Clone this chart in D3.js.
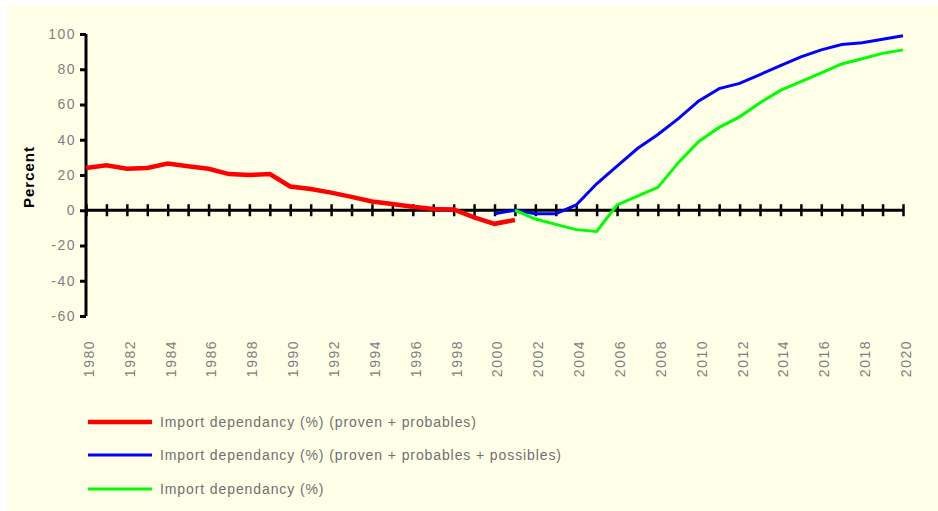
<!DOCTYPE html>
<html lang="en">
<head>
<meta charset="UTF-8">
<title>Import dependancy</title>
<style>
  body { margin: 0; background: #fff; }
  text { font-family: "Liberation Sans", Arial, sans-serif; }
</style>
</head>
<body></body>
<script src="https://cdn.jsdelivr.net/npm/d3@7"></script>
<script>
    let width = 938;
    let height = 511;

    // data
    const redYears   = [1980, 1981, 1982, 1983, 1984, 1985, 1986, 1987, 1988, 1989, 1990, 1991, 1992, 1993, 1994, 1995, 1996, 1997, 1998, 1999, 2000, 2001];
    const redValues  = [24, 25.5, 23.5, 24, 26.5, 25, 23.5, 20.5, 20, 20.5, 13.5, 12, 10, 7.6, 5, 3.5, 2, 0.7, 0.5, -4, -7.7, -5.5];

    const blueYears  = [2000, 2001, 2002, 2003, 2004, 2005, 2006, 2007, 2008, 2009, 2010, 2011, 2012, 2013, 2014, 2015, 2016, 2017, 2018, 2019, 2020];
    const blueValues = [-2, 0, -2, -2, 3, 15, 25, 35, 43, 52, 62, 69, 72, 77, 82, 87, 91, 94, 95, 97, 99];

    const greenYears  = [2001, 2002, 2003, 2004, 2005, 2006, 2007, 2008, 2009, 2010, 2011, 2012, 2013, 2014, 2015, 2016, 2017, 2018, 2019, 2020];
    const greenValues = [0, -5, -8, -11, -12, 3, 8, 13, 27, 39, 47, 53, 61, 68, 73, 78, 83, 86, 89, 91];

    const yTicks = [100, 80, 60, 40, 20, 0, -20, -40, -60];
    const legendLabels = [
        "Import dependancy (%) (proven + probables)",
        "Import dependancy (%) (proven + probables + possibles)",
        "Import dependancy (%)"
    ];

    const series = [
        { years: redYears, values: redValues, color: "#ff0000", w: 4.5 },
        { years: blueYears, values: blueValues, color: "#0000ff", w: 3 },
        { years: greenYears, values: greenValues, color: "#00ff00", w: 3 }
    ];

    let svg = d3.select("body")
                .append("svg")
                .attr("width", width)
                .attr("height", height);

    svg.append("rect")
        .attr("x", 7).attr("y", 5)
        .attr("width", width - 7).attr("height", height - 5)
        .style("fill", "#ffffe8");

    const x = d3.scaleLinear().domain([1980, 2020]).range([86, 903]);
    const y = d3.scaleLinear().domain([-60, 100]).range([316, 34]);

    // y axis
    const yAxis = svg.append("g")
        .attr("transform", "translate(86,0)")
        .call(d3.axisLeft(y).tickValues(yTicks).tickSize(6).tickPadding(4).tickFormat((d) => String(d)));
    yAxis.select(".domain").attr("stroke", "#000").attr("stroke-width", 3).attr("d", "M0," + y(100) + "V" + y(-60));
    yAxis.selectAll(".tick line").attr("stroke", "#000").attr("stroke-width", 3);
    yAxis.selectAll(".tick text")
        .style("font-size", "14px")
        .style("letter-spacing", "1.5px")
        .attr("fill", "#808080");

    // x axis along zero
    const xAxis = svg.append("g")
        .attr("transform", "translate(0," + y(0) + ")")
        .call(d3.axisBottom(x).tickValues(d3.range(1980, 2021)).tickFormat(""));
    xAxis.select(".domain").attr("stroke", "#000").attr("stroke-width", 3).attr("d", "M" + x(1980) + ",0H" + x(2020));
    xAxis.selectAll(".tick line").attr("stroke", "#000").attr("stroke-width", 2.5)
        .attr("y1", -6).attr("y2", 6);

    // year labels, rotated
    svg.selectAll(".ylab")
        .data(d3.range(1980, 2021, 2))
        .enter()
        .append("text")
        .attr("transform", (d) => "translate(" + (x(d) + 3) + ",340) rotate(-90)")
        .attr("dy", "0.35em")
        .attr("text-anchor", "end")
        .style("font-size", "14px")
        .style("letter-spacing", "1.5px")
        .attr("fill", "#808080")
        .text((d) => d);

    svg.append("text")
        .attr("transform", "translate(29,177) rotate(-90)")
        .attr("dy", "0.35em")
        .attr("text-anchor", "middle")
        .style("font-size", "15px")
        .style("font-weight", "bold")
        .style("letter-spacing", "1px")
        .attr("fill", "#000")
        .text("Percent");

    const line = d3.line()
        .x((d) => x(d[0]))
        .y((d) => y(d[1]));

    series.forEach(function (s) {
        svg.append("path")
            .datum(s.years.map((yr, i) => [yr, s.values[i]]))
            .attr("d", line)
            .style("fill", "none")
            .style("stroke", s.color)
            .style("stroke-width", s.w);
    });

    // legend
    const legendY = [422, 455, 489];
    series.forEach(function (s, i) {
        svg.append("line")
            .attr("x1", 88).attr("x2", 152)
            .attr("y1", legendY[i]).attr("y2", legendY[i])
            .style("stroke", s.color)
            .style("stroke-width", s.w);
        svg.append("text")
            .attr("x", 160).attr("y", legendY[i])
            .attr("dy", "0.35em")
            .style("font-size", "14px")
            .style("letter-spacing", "0.9px")
            .attr("fill", "#707070")
            .text(legendLabels[i]);
    });
</script>
</html>
